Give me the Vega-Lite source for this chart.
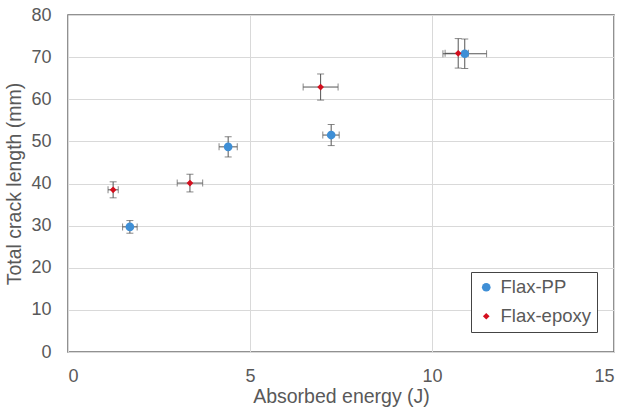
{
  "$schema": "https://vega.github.io/schema/vega-lite/v6.json",
  "autosize": {"type": "none"},
  "padding": {"left": 68, "top": 15, "right": 15, "bottom": 66},
  "width": 546,
  "height": 337,
  "config": {
    "font": "Liberation Sans",
    "view": {"stroke": "#6e6e6e", "strokeWidth": 1.5},
    "axis": {"labelColor": "#595959", "titleColor": "#595959", "labelFontSize": 18, "titleFontSize": 19.5, "titleFontWeight": "normal", "gridColor": "#d9d9d9", "domain": false, "ticks": false}
  },
  "data": {"values": [
    {"series": "Flax-PP", "energy": 1.7, "crack": 29.7, "elo": 1.5, "ehi": 1.9, "clo": 28.2, "chi": 31.2},
    {"series": "Flax-PP", "energy": 4.4, "crack": 48.7, "elo": 4.15, "ehi": 4.65, "clo": 46.3, "chi": 51.1},
    {"series": "Flax-PP", "energy": 7.23, "crack": 51.5, "elo": 7.0, "ehi": 7.45, "clo": 49.0, "chi": 54.0},
    {"series": "Flax-PP", "energy": 10.9, "crack": 70.8, "elo": 10.3, "ehi": 11.5, "clo": 67.3, "chi": 74.3},
    {"series": "Flax-epoxy", "energy": 1.24, "crack": 38.5, "elo": 1.1, "ehi": 1.38, "clo": 36.6, "chi": 40.4},
    {"series": "Flax-epoxy", "energy": 3.35, "crack": 40.1, "elo": 3.0, "ehi": 3.7, "clo": 38.0, "chi": 42.2},
    {"series": "Flax-epoxy", "energy": 6.94, "crack": 62.9, "elo": 6.46, "ehi": 7.42, "clo": 59.8, "chi": 66.0},
    {"series": "Flax-epoxy", "energy": 10.72, "crack": 70.9, "elo": 10.36, "ehi": 11.0, "clo": 67.4, "chi": 74.4}
  ]},
  "layer": [
    {
      "mark": {"type": "rule", "color": "#555555", "strokeWidth": 1},
      "encoding": {
        "x": {"field": "elo", "type": "quantitative", "scale": {"domain": [0, 15], "nice": false}, "axis": {"values": [0, 5, 10, 15], "title": "Absorbed energy (J)", "labelPadding": 15, "titlePadding": 2}},
        "x2": {"field": "ehi"},
        "y": {"field": "crack", "type": "quantitative", "scale": {"domain": [0, 80], "nice": false}, "axis": {"values": [0, 10, 20, 30, 40, 50, 60, 70, 80], "title": "Total crack length (mm)", "labelPadding": 17, "titlePadding": 6, "grid": true}}
      }
    },
    {
      "mark": {"type": "rule", "color": "#555555", "strokeWidth": 1},
      "encoding": {
        "x": {"field": "energy", "type": "quantitative"},
        "y": {"field": "clo", "type": "quantitative"},
        "y2": {"field": "chi"}
      }
    },
    {
      "mark": {"type": "tick", "orient": "vertical", "color": "#555555", "size": 7, "thickness": 1},
      "encoding": {"x": {"field": "elo", "type": "quantitative"}, "y": {"field": "crack", "type": "quantitative"}}
    },
    {
      "mark": {"type": "tick", "orient": "vertical", "color": "#555555", "size": 7, "thickness": 1},
      "encoding": {"x": {"field": "ehi", "type": "quantitative"}, "y": {"field": "crack", "type": "quantitative"}}
    },
    {
      "mark": {"type": "tick", "orient": "horizontal", "color": "#555555", "size": 7, "thickness": 1},
      "encoding": {"x": {"field": "energy", "type": "quantitative"}, "y": {"field": "clo", "type": "quantitative"}}
    },
    {
      "mark": {"type": "tick", "orient": "horizontal", "color": "#555555", "size": 7, "thickness": 1},
      "encoding": {"x": {"field": "energy", "type": "quantitative"}, "y": {"field": "chi", "type": "quantitative"}}
    },
    {
      "mark": {"type": "point", "filled": true, "opacity": 1},
      "encoding": {
        "x": {"field": "energy", "type": "quantitative"},
        "y": {"field": "crack", "type": "quantitative"},
        "color": {"field": "series", "type": "nominal", "scale": {"domain": ["Flax-PP", "Flax-epoxy"], "range": ["#3f8fd6", "#d40f1e"]},
          "legend": {"title": null, "orient": "none", "legendX": 403, "legendY": 257, "fillColor": "white", "strokeColor": "#444444", "padding": 6, "labelFontSize": 18.5, "labelColor": "#595959", "rowPadding": 10, "symbolSize": 28, "labelOffset": 5, "symbolStrokeWidth": 0}},
        "shape": {"field": "series", "type": "nominal", "scale": {"domain": ["Flax-PP", "Flax-epoxy"], "range": ["circle", "diamond"]}, "legend": null},
        "size": {"field": "series", "type": "nominal", "scale": {"domain": ["Flax-PP", "Flax-epoxy"], "range": [75, 45]}, "legend": null}
      }
    }
  ]
}
